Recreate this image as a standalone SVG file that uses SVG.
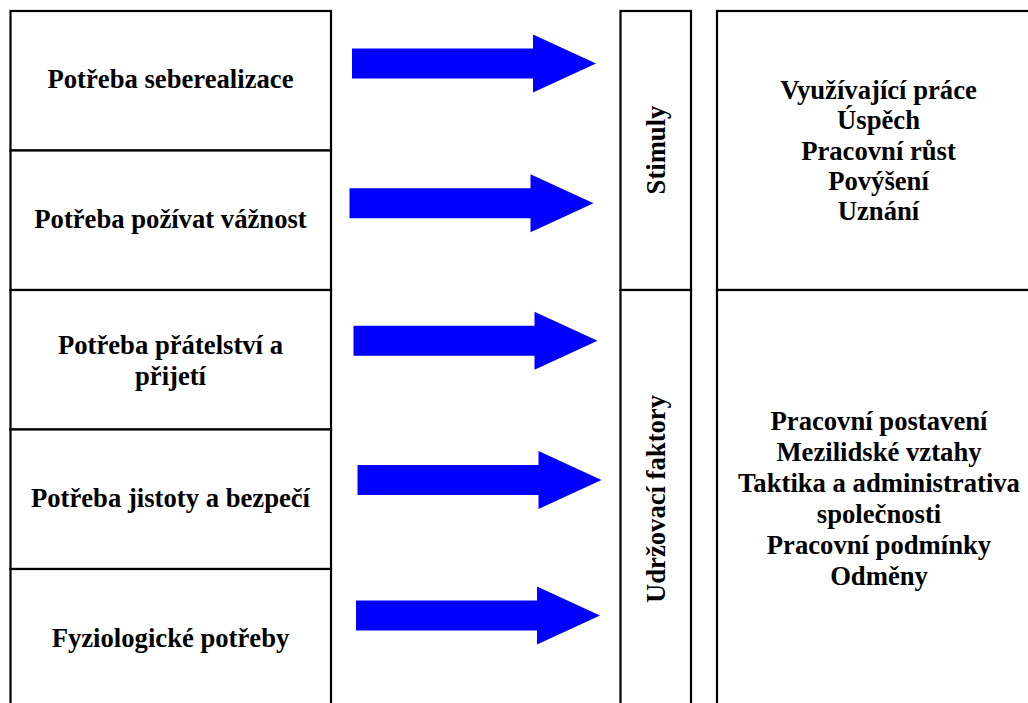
<svg xmlns="http://www.w3.org/2000/svg" width="1028" height="703" viewBox="0 0 1028 703">
<style>
.cell{fill:#fff;stroke:#000;stroke-width:2.2}
.t{font-family:'Liberation Serif','Times New Roman',Times,'DejaVu Serif',serif;font-weight:700;font-size:26.67px;fill:#000;text-anchor:middle}
.arr{fill:#0000ff}
</style>
<defs>
<polygon id="arrow" points="0,-15 181,-15 181,-29 244,0 181,29 181,15 0,15"/>
</defs>
<rect width="1028" height="703" fill="#fff"/>
<g id="n1"><rect class="cell" x="10.5" y="11" width="320.5" height="139.5"/><text class="t" x="170.5" y="88">Potřeba seberealizace</text></g>
<g id="n2"><rect class="cell" x="10.5" y="150.5" width="320.5" height="139.5"/><text class="t" x="170.5" y="228">Potřeba požívat vážnost</text></g>
<g id="n3"><rect class="cell" x="10.5" y="290" width="320.5" height="139.5"/><text class="t" x="170.5" y="354">Potřeba přátelství a</text><text class="t" x="170.5" y="384.5">přijetí</text></g>
<g id="n4"><rect class="cell" x="10.5" y="429.5" width="320.5" height="139.5"/><text class="t" x="170.5" y="507">Potřeba jistoty a bezpečí</text></g>
<g id="n5"><rect class="cell" x="10.5" y="569" width="320.5" height="150"/><text class="t" x="170.5" y="647">Fyziologické potřeby</text></g>
<g id="stimuly"><rect class="cell" x="620.5" y="11" width="70.5" height="279"/><text class="t" transform="translate(665,150) rotate(-90)">Stimuly</text></g>
<g id="udrzovaci"><rect class="cell" x="620.5" y="290" width="70.5" height="430"/><text class="t" transform="translate(665,499) rotate(-90)">Udržovací faktory</text></g>
<g id="stimuly-list"><rect class="cell" x="717" y="11" width="330" height="279"/>
<text class="t" x="878.5" y="98.5">Využívající práce</text>
<text class="t" x="878.5" y="129">Úspěch</text>
<text class="t" x="878.5" y="159.5">Pracovní růst</text>
<text class="t" x="878.5" y="189.5">Povýšení</text>
<text class="t" x="878.5" y="219.5">Uznání</text>
</g>
<g id="udrzovaci-list"><rect class="cell" x="717" y="290" width="330" height="430"/>
<text class="t" x="879" y="430">Pracovní postavení</text>
<text class="t" x="879" y="461">Mezilidské vztahy</text>
<text class="t" x="879" y="492">Taktika a administrativa</text>
<text class="t" x="879" y="523">společnosti</text>
<text class="t" x="879" y="554">Pracovní podmínky</text>
<text class="t" x="879" y="585">Odměny</text>
</g>
<g id="connectors">
<use href="#arrow" class="arr" x="352" y="63.5"/>
<use href="#arrow" class="arr" x="349.5" y="203.3"/>
<use href="#arrow" class="arr" x="353.5" y="340.7"/>
<use href="#arrow" class="arr" x="357.5" y="480"/>
<use href="#arrow" class="arr" x="356" y="615.5"/>
</g>
</svg>
